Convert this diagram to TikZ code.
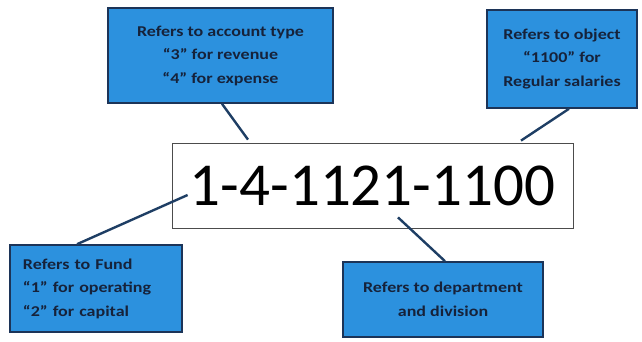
\documentclass[tikz,border=0pt]{standalone}
\usepackage{fontspec}
\setmainfont{Carlito}
\newfontfamily\wideface[Ligatures=TeX,FakeStretch=1.2]{Carlito}
\usepackage{tikz}
\usepackage{xcolor}
\definecolor{boxblue}{RGB}{44,145,222}
\definecolor{boxedge}{RGB}{28,52,88}
\definecolor{linkblue}{RGB}{30,62,100}
\definecolor{inkblue}{RGB}{22,34,58}

\begin{document}
\begin{tikzpicture}[x=1pt,y=-1pt,
  note/.style={draw=boxedge,line width=1.6pt,fill=boxblue,text=inkblue,
    font=\wideface\fontsize{15}{23.5}\selectfont\bfseries,inner sep=0pt},
  link/.style={draw=linkblue,line width=2.4pt}]
\useasboundingbox (0,0) rectangle (642,341);
\node[draw=black!70,line width=0.8pt,fill=white,minimum width=401pt,minimum height=85pt,
  font=\fontsize{61}{61}\selectfont] (code) at (372.5,185.5) {1-4-1121-1100};
\node[note,minimum width=225pt,minimum height=95pt,align=center] (acct) at (220.5,55.5)
  {Refers to account type\\``3'' for revenue\\``4'' for expense};
\node[note,minimum width=150pt,minimum height=98pt,align=center] (obj) at (562,59)
  {Refers to object\\``1100'' for\\Regular salaries};
\node[note,minimum width=172pt,minimum height=87pt,align=left,text width=146pt] (fund) at (96,288.5)
  {Refers to Fund\\``1'' for operating\\``2'' for capital};
\node[note,minimum width=200pt,minimum height=75pt,align=center] (dept) at (443,299.5)
  {Refers to department\\and division};
\draw[link] ([xshift=1.5pt]acct.south) -- ([xshift=-124.5pt,yshift=3pt]code.north);
\draw[link] ([xshift=7pt]obj.south) -- ([xshift=148.5pt,yshift=2pt]code.north);
\draw[link] ([xshift=-19pt]fund.north) -- ([xshift=16pt,yshift=-9.5pt]code.west);
\draw[link] ([xshift=25.5pt,yshift=11pt]code.south) -- ([xshift=2pt]dept.north);
\end{tikzpicture}
\end{document}
